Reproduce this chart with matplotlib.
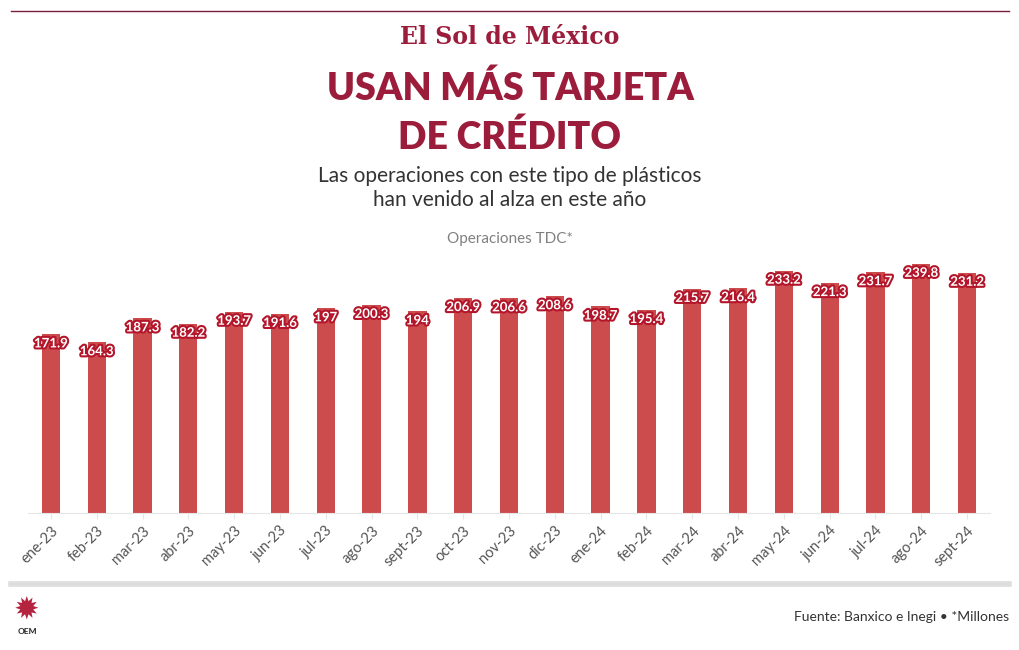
import matplotlib.pyplot as plt
import matplotlib.patheffects as pe
from matplotlib.lines import Line2D

months = ["ene-23", "feb-23", "mar-23", "abr-23", "may-23", "jun-23", "jul-23",
          "ago-23", "sept-23", "oct-23", "nov-23", "dic-23", "ene-24", "feb-24",
          "mar-24", "abr-24", "may-24", "jun-24", "jul-24", "ago-24", "sept-24"]
operaciones = [171.9, 164.3, 187.3, 182.2, 193.7, 191.6, 197, 200.3, 194, 206.9,
               206.6, 208.6, 198.7, 195.4, 215.7, 216.4, 233.2, 221.3, 231.7,
               239.8, 231.2]

DARK_RED = "#9c1c3b"
BAR_RED = "#cc4b4c"
LABEL_RED = "#b3162a"

plt.rcParams["font.family"] = ["Lato", "DejaVu Sans"]

fig = plt.figure(figsize=(10.2, 6.5), dpi=100)

# header / footer rules
fig.add_artist(Line2D([11 / 1020, 1009 / 1020], [1 - 11 / 650] * 2, color="#7a1f3a", lw=1))
fig.add_artist(Line2D([11 / 1020, 1009 / 1020], [1 - 584 / 650] * 2, color="#dddddd", lw=4))

fig.text(0.5, 1 - 37 / 650, "El Sol de México", ha="center", va="center",
         fontsize=17, fontweight="bold", color=DARK_RED, family="DejaVu Serif")
fig.text(0.5, 1 - 88 / 650, "USAN MÁS TARJETA", ha="center", va="center",
         fontsize=27, fontweight="heavy", color=DARK_RED)
fig.text(0.5, 1 - 137 / 650, "DE CRÉDITO", ha="center", va="center",
         fontsize=27, fontweight="heavy", color=DARK_RED)
fig.text(0.5, 1 - 188 / 650, "Las operaciones con este tipo de plásticos\nhan venido al alza en este año",
         ha="center", va="center", fontsize=15, color="#333333", linespacing=1.25)
fig.text(0.5, 1 - 239 / 650, "Operaciones TDC*", ha="center", va="center",
         fontsize=11, color="#808080")
fig.text(1009 / 1020, 1 - 617 / 650, "Fuente: Banxico e Inegi • *Millones", ha="right",
         va="center", fontsize=10, color="#333333")

# small OEM mark
fig.text(27 / 1020, 1 - 610 / 650, "✹", ha="center", va="center", fontsize=22,
         color="#b5243f", family="DejaVu Sans")
fig.text(27 / 1020, 1 - 632 / 650, "OEM", ha="center", va="center", fontsize=6,
         fontweight="bold", color="#222222")

ax = fig.add_axes([28 / 1020, 1 - 513 / 650, 962 / 1020, 263 / 650])
x = range(len(months))
ax.bar(x, operaciones, width=0.4, color=BAR_RED)
for xi, v in zip(x, operaciones):
    ax.text(xi, v - 3, f"{v:g}", ha="center", va="top", fontsize=9.5,
            fontweight="bold", color="white",
            path_effects=[pe.withStroke(linewidth=3, foreground=LABEL_RED)])

ax.set_xlim(-0.5, len(months) - 0.5)
ax.set_ylim(0, 253)
ax.set_xticks(list(x))
ax.set_xticklabels(months, rotation=45, ha="right", rotation_mode="anchor",
                   fontsize=10.5, color="#555555")
ax.set_yticks([])
ax.tick_params(axis="x", length=4, color="#e6e6e6")
for s in ["top", "right", "left"]:
    ax.spines[s].set_visible(False)
ax.spines["bottom"].set_color("#e6e6e6")

fig.savefig("out.png", dpi=100)
